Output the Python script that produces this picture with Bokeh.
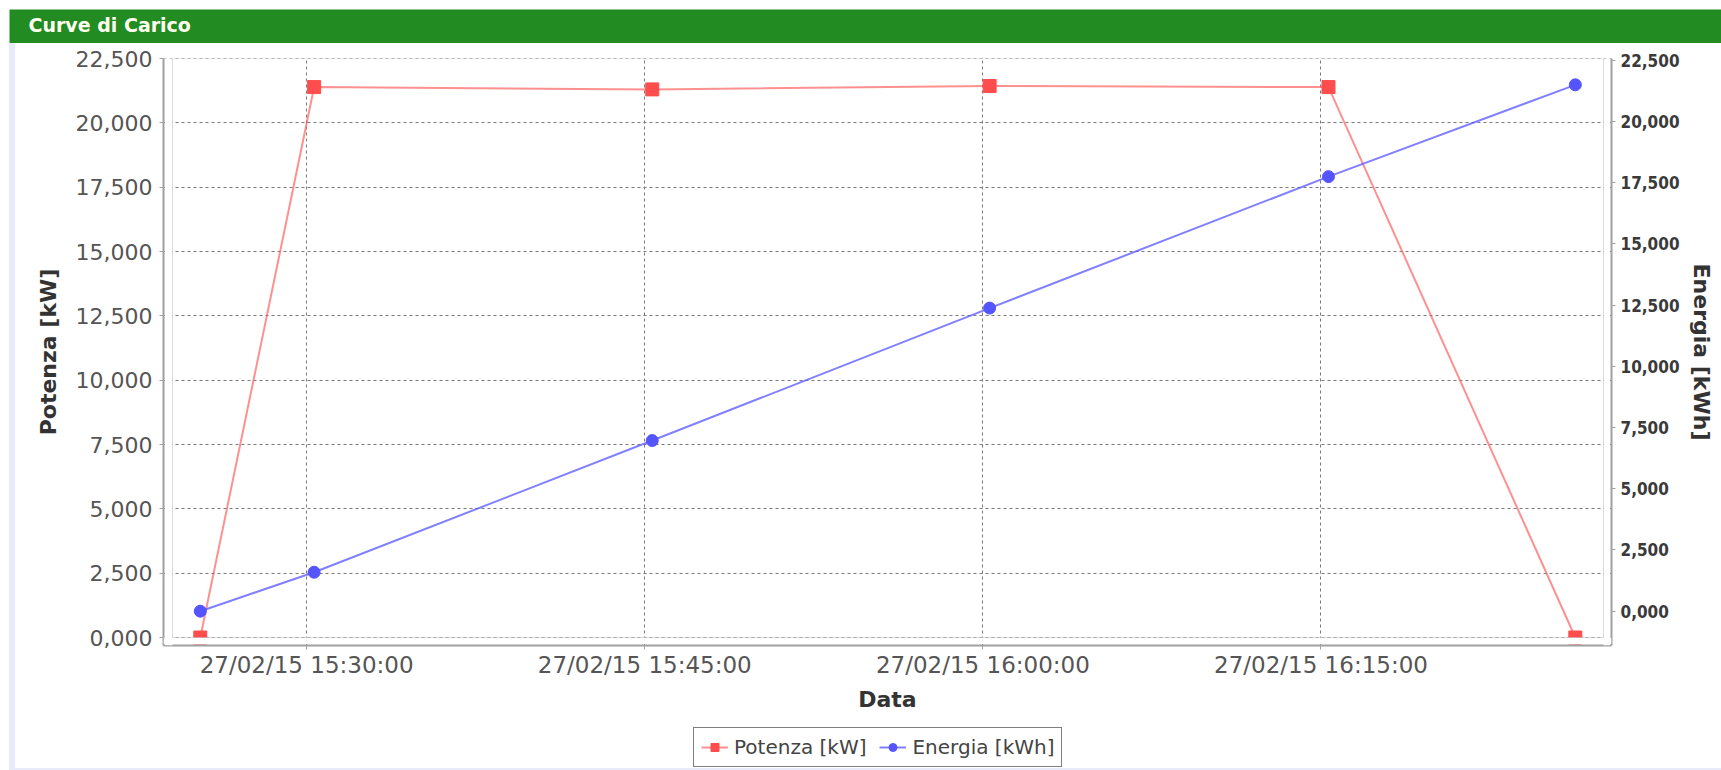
import pandas as pd
from bokeh.plotting import figure
from bokeh.models import (Range1d, LinearAxis, FixedTicker, BoxAnnotation, Legend,
                          LegendItem, Label, Spacer, ColumnDataSource)
from bokeh.layouts import column, row
from bokeh.embed import file_html
from bokeh.resources import INLINE

# ---------------- data ----------------
title_text = "Curve di Carico"
series_names = ["Potenza [kW]", "Energia [kWh]"]
x_title = "Data"
times = ["2015-02-27 15:25:17", "2015-02-27 15:30:20", "2015-02-27 15:45:20",
         "2015-02-27 16:00:18", "2015-02-27 16:15:20", "2015-02-27 16:26:17"]
potenza = [0.0, 21.39, 21.30, 21.43, 21.39, 0.0]
energia = [0.0, 1.59, 6.97, 12.38, 17.75, 21.50]
x_tick_times = ["2015-02-27 15:30:00", "2015-02-27 15:45:00",
                "2015-02-27 16:00:00", "2015-02-27 16:15:00"]
x_tick_labels = ["27/02/15 15:30:00", "27/02/15 15:45:00",
                 "27/02/15 16:00:00", "27/02/15 16:15:00"]
y_ticks = [0.0, 2.5, 5.0, 7.5, 10.0, 12.5, 15.0, 17.5, 20.0, 22.5]
y_tick_labels = ["0,000", "2,500", "5,000", "7,500", "10,000", "12,500",
                 "15,000", "17,500", "20,000", "22,500"]
x_view = ["2015-02-27 15:24:03", "2015-02-27 16:27:32"]
potenza_view = [0.0, 22.5]
energia_view = [-1.075, 22.575]

# ---------------- geometry ----------------
PAGE_W = 1721
OFF = 9
W_TOTAL = PAGE_W - OFF          # 1712
HEADER_H = 34
STRIP_W = 6
MAIN_W = W_TOTAL - STRIP_W      # 1706
MAIN_H = 673
LEG_H = 52
BOTTOM_H = 3
BORDER_L, BORDER_R, BORDER_T, BORDER_B = 148, 110, 15, 71
GAP_L, GAP_R, GAP_B = 9, 8, 8
frame_w = MAIN_W - BORDER_L - BORDER_R
frame_h = MAIN_H - BORDER_T - BORDER_B
inner_w = frame_w - GAP_L - GAP_R
inner_h = frame_h - GAP_B

def to_ms(s):
    return pd.Timestamp(s).value / 1e6

xv0, xv1 = to_ms(x_view[0]), to_ms(x_view[1])
mpp = (xv1 - xv0) / inner_w
x_range = Range1d(xv0 - GAP_L * mpp, xv1 + GAP_R * mpp)
ypp = (potenza_view[1] - potenza_view[0]) / inner_h
y_range = Range1d(potenza_view[0] - GAP_B * ypp, potenza_view[1] + 1e-9)
eypp = (energia_view[1] - energia_view[0]) / inner_h
e_range = Range1d(energia_view[0] - GAP_B * eypp, energia_view[1])

FONT = "DejaVu Sans"
LAVENDER = "#e8ebfa"
RED, RED_M = "#ff5555", "#ff4d4d"
BLUE = "#5555ff"

# ---------------- header ----------------
h = figure(width=W_TOTAL, height=HEADER_H, x_range=(0, 1), y_range=(0, 1),
           x_axis_location=None, y_axis_location=None, min_border=0,
           toolbar_location=None, output_backend="svg",
           background_fill_color="#228b22", border_fill_color="#228b22",
           outline_line_color=None)
h.grid.visible = False
h.add_layout(Label(x=19, y=19, x_units="screen", y_units="screen", text=title_text,
                   text_font=FONT, text_font_style="bold", text_font_size="19px",
                   text_color="#fffff0", text_baseline="alphabetic"))

# ---------------- main plot ----------------
p = figure(width=MAIN_W, height=MAIN_H, x_axis_type="datetime",
           x_range=x_range, y_range=y_range, output_backend="svg",
           toolbar_location=None, min_border_left=BORDER_L, min_border_right=BORDER_R,
           min_border_top=BORDER_T, min_border_bottom=BORDER_B,
           background_fill_color="white", border_fill_color="white",
           outline_line_color=None)
p.extra_y_ranges = {"energia": e_range}

x_ticks_ms = [to_ms(t) for t in x_tick_times]

xa = p.xaxis[0]
xa.ticker = FixedTicker(ticks=x_ticks_ms)
xa.major_label_overrides = {t: l for t, l in zip(x_ticks_ms, x_tick_labels)}
xa.axis_label = x_title
ya = p.yaxis[0]
ya.ticker = FixedTicker(ticks=y_ticks)
ya.major_label_overrides = {t: l for t, l in zip(y_ticks, y_tick_labels)}
ya.axis_label = series_names[0]
ra = LinearAxis(y_range_name="energia", ticker=FixedTicker(ticks=y_ticks),
                axis_label=series_names[1])
ra.major_label_overrides = {t: l for t, l in zip(y_ticks, y_tick_labels)}
p.add_layout(ra, "right")

for ax in (xa, ya, ra):
    ax.axis_line_color = "#a0a0a0"
    ax.axis_line_width = 2
    ax.major_tick_line_color = "#a0a0a0"
    ax.major_tick_in = 0
    ax.major_tick_out = 4
    ax.minor_tick_line_color = None
    ax.axis_label_text_font = FONT
    ax.axis_label_text_font_style = "bold"
    ax.axis_label_text_font_size = "22px"
    ax.axis_label_text_color = "#333333"
    ax.major_label_text_font = FONT

xa.major_label_text_font_size = "23px"
xa.major_label_text_color = "#555555"
xa.major_label_standoff = 2
xa.axis_label_standoff = 6
ya.major_label_text_font_size = "22px"
ya.major_label_text_color = "#555555"
ya.major_label_standoff = 7
ya.axis_label_standoff = 12
ra.major_label_text_font = "DejaVu Sans Condensed"
ra.major_label_text_font_style = "bold"
ra.major_label_text_font_size = "17px"
ra.major_label_text_color = "#3a3a3a"
ra.major_label_standoff = 5
ra.axis_label_standoff = 6

p.xgrid.ticker = FixedTicker(ticks=x_ticks_ms)
p.ygrid.ticker = FixedTicker(ticks=y_ticks)
p.grid.grid_line_color = "#7a7a7a"
p.grid.grid_line_dash = "3 3"
p.grid.grid_line_width = 1

src = ColumnDataSource(dict(t=pd.to_datetime(times), p=potenza, e=energia))
line_p = dict(line_color=RED, line_alpha=0.65, line_width=2)
mark_p = dict(marker="square", size=13, fill_color=RED_M, line_color=RED_M)
line_e = dict(line_color=BLUE, line_alpha=0.75, line_width=2)
mark_e = dict(marker="circle", size=12, fill_color=BLUE, line_color=BLUE)

p.line("t", "p", source=src, **line_p)
p.scatter("t", "p", source=src, **mark_p)
p.line("t", "e", source=src, y_range_name="energia", **line_e)
p.scatter("t", "e", source=src, y_range_name="energia", **mark_e)

white_kw = dict(fill_color="white", fill_alpha=1, line_color=None)
p.add_layout(BoxAnnotation(left=x_range.start + 1.5 * mpp, right=xv0, **white_kw))
p.add_layout(BoxAnnotation(left=xv1, right=x_range.end - 1.5 * mpp, **white_kw))
p.add_layout(BoxAnnotation(bottom=y_range.start + 1.5 * ypp, top=potenza_view[0], **white_kw))
p.add_layout(BoxAnnotation(left=xv0, right=xv1, bottom=potenza_view[0], top=potenza_view[1],
                           fill_alpha=0, line_color="#8c8c8c", line_width=1))

# ---------------- legend strip ----------------
# its frame is aligned with the main plot frame by the column layout;
# the series renderers here lie outside its (0..1) view and only feed the legend glyphs
lf = figure(width=MAIN_W, height=LEG_H, x_range=(0, 1), y_range=(0, 1),
            x_axis_location=None, y_axis_location=None, min_border=0,
            toolbar_location=None, output_backend="svg",
            background_fill_color="white", border_fill_color="white",
            outline_line_color=None)
lf.grid.visible = False
lg_lp = lf.line("t", "p", source=src, **line_p)
lg_sp = lf.scatter("t", "p", source=src, **dict(mark_p, size=10))
lg_le = lf.line("t", "e", source=src, **line_e)
lg_se = lf.scatter("t", "e", source=src, **dict(mark_e, size=10))
legend = Legend(items=[LegendItem(label=series_names[0], renderers=[lg_lp, lg_sp]),
                       LegendItem(label=series_names[1], renderers=[lg_le, lg_se])],
                orientation="horizontal", location=(530, 1), margin=0, padding=7,
                spacing=13, glyph_width=27, glyph_height=20, label_standoff=6,
                label_text_font=FONT, label_text_font_size="20px",
                label_text_color="#444444", border_line_color="black",
                border_line_width=1, background_fill_color="white",
                background_fill_alpha=1)
lf.add_layout(legend)

left_strip = Spacer(width=STRIP_W, height=MAIN_H + LEG_H, styles={"background-color": LAVENDER})
bottom_strip = Spacer(width=W_TOTAL, height=BOTTOM_H, styles={"background-color": LAVENDER})
inner = column(h, row(left_strip, column(p, lf)), bottom_strip)
layout = column(Spacer(width=PAGE_W, height=OFF),
                row(Spacer(width=OFF, height=HEADER_H + MAIN_H + LEG_H + BOTTOM_H), inner))

open("out.html", "w").write(file_html(layout, INLINE))
